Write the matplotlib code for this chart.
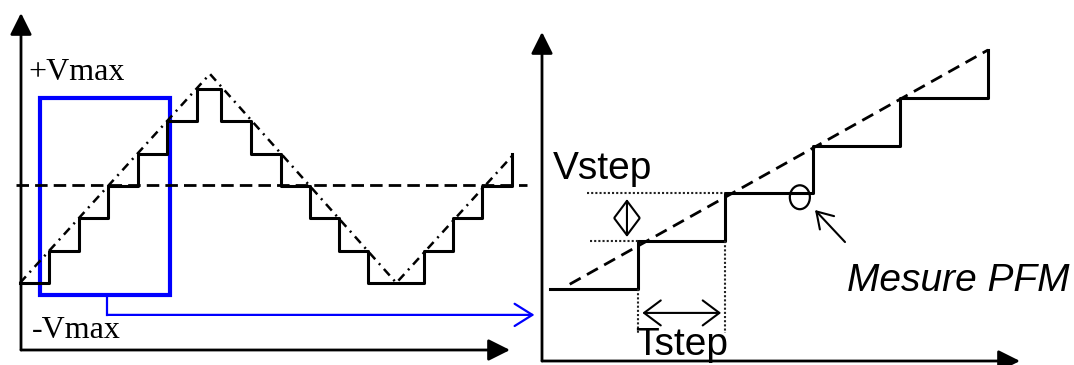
import numpy as np
import matplotlib.pyplot as plt
from matplotlib.patches import Ellipse, Rectangle

# ---- left panel: triangle command and its quantised staircase ----
# time in step units, voltage in Vstep units
stair_t = [0, 1, 2, 3, 4, 5, 6.02, 6.84, 7.86, 8.88, 9.86, 10.85, 11.84, 13.74, 14.73, 15.71, 16.73]
stair_v = [-3, -2, -1, 0, 1, 2, 3, 2, 1, 0, -1, -2, -3, -2, -1, 0, 1]
tri_t = [0, 6.46, 12.8, 16.77]
tri_v = [-3, 3.47, -3, 0.96]
zero_t = [-0.14, 17.24]
zero_v = [0.03, 0.03]
box_t = [0.68, 5.10]
box_v = [-3.37, 2.72]
link_t = [2.96, 2.96, 17.5]
link_v = [-3.37, -3.99, -3.99]

# ---- right panel: zoom on a few steps ----
zstair_t = [0, 1, 2, 3, 4, 5]
zstair_v = [0, 1, 2, 3, 4, 5]
ramp_t = [0.22, 5.0]
ramp_v = [0.1, 5.0]
pfm_point = (2.85, 1.92)

W, H = 1074, 365
fig = plt.figure(figsize=(W / 100, H / 100), dpi=100)


def px_axes(left, top, right, bottom):
    return fig.add_axes([left / W, 1 - bottom / H, (right - left) / W, (bottom - top) / H])


def axis_arrows(ax):
    head = dict(arrowstyle='-|>,head_length=0.4,head_width=0.2', mutation_scale=33,
                lw=2, color='k', shrinkA=0, shrinkB=0)
    ax.annotate('', xy=(1, 0), xytext=(0, 0), xycoords='axes fraction', arrowprops=head,
                annotation_clip=False)
    ax.annotate('', xy=(0, 1), xytext=(0, 0), xycoords='axes fraction', arrowprops=head,
                annotation_clip=False)


# left
ax1 = px_axes(21, 13, 510, 350)
ax1.set_xlim(0.034, 16.667)
ax1.set_ylim(-5.077, 5.356)
ax1.set_axis_off()
axis_arrows(ax1)

ax1.plot(zero_t, zero_v, color='k', lw=2, ls=(0, (4.5, 2.2)), clip_on=False)
ax1.plot(tri_t, tri_v, color='k', lw=1.8, ls=(0, (3.5, 2.2, 0.8, 2.2)), clip_on=False)
ax1.step(stair_t, stair_v, where='post', color='k', lw=2.2, clip_on=False)
ax1.add_patch(Rectangle((box_t[0], box_v[0]), box_t[1] - box_t[0], box_v[1] - box_v[0],
                        fill=False, ec='#0000ff', lw=3, clip_on=False))
ax1.plot(link_t[:2], link_v[:2], color='#0000ff', lw=1.6, clip_on=False)
ax1.annotate('', xy=(link_t[2], link_v[2]), xytext=(link_t[1], link_v[1]),
             arrowprops=dict(arrowstyle='->,head_length=0.4,head_width=0.25', mutation_scale=32,
                             lw=1.6, color='#0000ff', shrinkA=0, shrinkB=0),
             annotation_clip=False)

serif = dict(family='Liberation Serif', fontsize=23)
ax1.text(0.27, 3.28, '+Vmax', va='baseline', ha='left', **serif)
ax1.text(0.41, -4.71, '-Vmax', va='baseline', ha='left', **serif)

# right
ax2 = px_axes(542, 32, 1020, 361)
ax2.set_xlim(-0.097, 5.366)
ax2.set_ylim(-1.506, 5.377)
ax2.set_axis_off()
axis_arrows(ax2)

ax2.plot(ramp_t, ramp_v, color='k', lw=2, ls=(0, (4.5, 2.6)))
ax2.step(zstair_t, zstair_v, where='post', color='k', lw=2.2)

dot = dict(color='#222222', lw=1.5, ls=(0, (1, 1)))
ax2.plot([0.417, 2], [2, 2], **dot)
ax2.plot([0.45, 1], [1, 1], **dot)
ax2.plot([1, 1], [0, -0.92], **dot)
ax2.plot([2, 2], [1, -0.92], **dot)

dbl = dict(arrowstyle='<->,head_length=0.4,head_width=0.3', mutation_scale=30,
           lw=1.5, color='k', shrinkA=0, shrinkB=0)
ax2.annotate('', xy=(0.874, 1.09), xytext=(0.874, 1.88), arrowprops=dbl)
ax2.annotate('', xy=(1.95, -0.50), xytext=(1.05, -0.50), arrowprops=dbl)

ax2.add_patch(Ellipse(pfm_point, 0.229, 0.50, fill=False, ec='k', lw=1.6))
ax2.annotate('', xy=(3.023, 1.653), xytext=(3.366, 0.983),
             arrowprops=dict(arrowstyle='->,head_length=0.4,head_width=0.25', mutation_scale=28,
                             lw=1.5, color='k', shrinkA=0, shrinkB=0))

sans = dict(family='Liberation Sans', fontsize=28)
ax2.text(0.029, 2.30, 'Vstep', va='baseline', ha='left', **sans)
ax2.text(0.966, -1.38, 'Tstep', va='baseline', ha='left', clip_on=False, **sans)
ax2.text(3.39, -0.04, 'Mesure PFM', va='baseline', ha='left', style='italic', **sans)

fig.savefig('out.png', dpi=100)
